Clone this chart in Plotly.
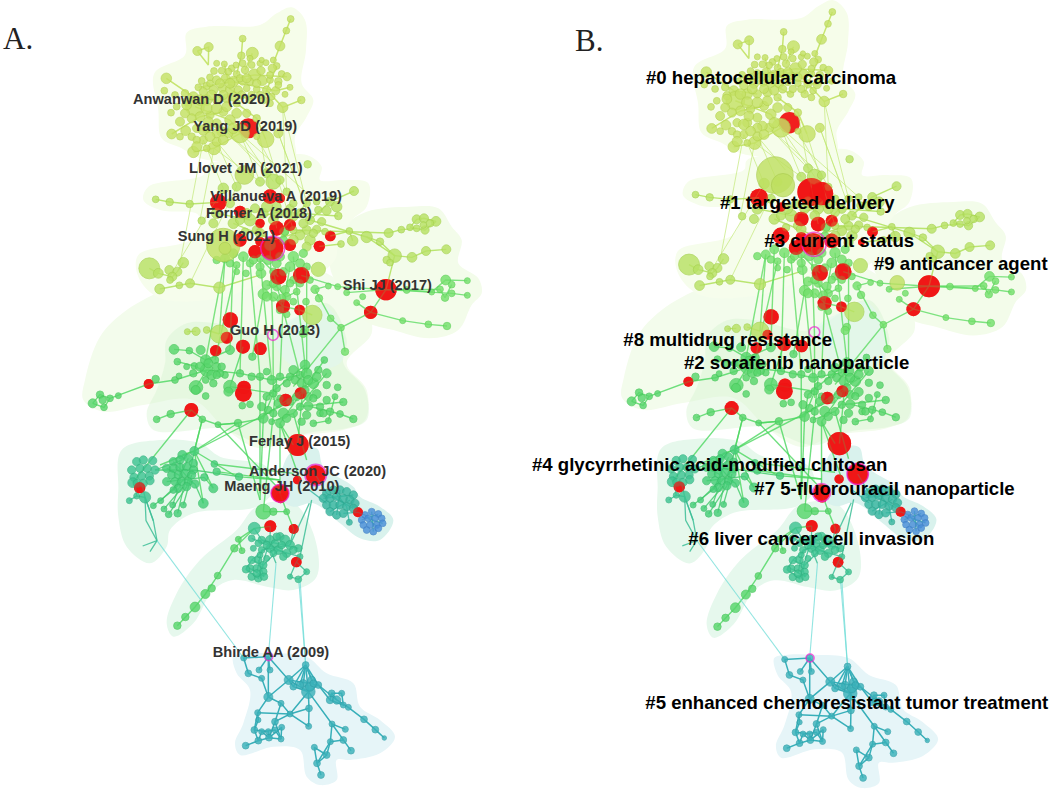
import plotly.graph_objects as go

# ---------- network layout units (shared by both panels) ----------
top_x = [692,679,660,548,577,544,412,446,493,515,548,575,618,650,462,485,530,555,583,603,637,665,681,425,450,470,497,520,548,570,607,630,655,319,313,690,415,440,460,487,510,535,560,590,620,647,675,724,345,375,400,405,440,470,500,530,568,668,610,630,333,375,420,450,490,360,377,335,410,440,470,510,540,590,617,655,590,400,430,462,470,440,505,505,470,540,600,630,560,590,450,480,510,430,455,490,520,545,575,600,635,655,380,420,380,350,440,470,500,530,395,445,430,395,410,485,520,560,470,410,450,360,490,640,605,528,570]
top_y = [57,92,138,116,160,167,153,141,192,205,190,195,188,198,213,212,222,210,225,212,205,222,230,243,232,240,235,245,243,245,242,240,244,235,272,262,262,258,270,265,268,270,265,268,270,272,283,300,285,280,290,320,300,300,295,310,300,322,300,310,338,340,350,345,335,365,392,402,385,385,370,360,400,355,418,400,410,456,420,445,425,445,400,215,190,235,190,225,235,250,250,250,250,275,285,285,290,285,285,285,290,255,305,300,315,320,325,325,320,340,355,365,390,410,420,395,385,340,400,440,410,410,420,180,180,195,175]
top_f = [9,9,13,9,16,10,12,12,8,9,9,9,8,9,9,9,9,10,16,11,11,9,11,9,9,11,12,14,11,10,13,9,10,14,9,8,9,10,12,11,12,11,9,9,11,11,8,10,9,10,13,25,14,11,12,10,9,14,10,9,9,12,13,11,12,12,13,13,11,12,12,14,25,10,22,12,8,15,11,17,12,9,12,9,8,10,8,9,12,11,9,12,13,11,13,12,12,11,10,10,9,9,11,14,13,9,15,14,13,13,12,13,14,10,10,13,14,11,12,13,13,9,13,8,7,8,8]

mid_x = [743,620,640,600,660,490,680,882,287,329,389,425,530,810,830,775,800,835,740,770,750,720,690,470,460,520,570,555,770,740,795,700,750,672,868,878,843,920,960,986,1024,1050,1070,1092,1128,1070,1095,1110,1090,1159,1098,1056,1004,980,990,268,295,328,370,352,337,358,390,299,478,330,757,478,408,382,440,775,650,610,585,650,620,640,700,730,700,680,590,560,540,510,600,720,700,740,760,785]
mid_y = [493,520,545,545,540,565,575,573,598,606,612,662,560,605,620,630,632,648,610,605,660,640,625,640,670,670,660,695,688,690,695,690,720,695,693,722,732,711,725,699,689,682,658,655,664,685,690,670,675,748,753,772,767,780,788,805,820,810,788,815,830,856,850,867,863,840,945,1002,994,995,990,808,640,640,625,620,620,660,650,670,610,640,690,640,660,610,700,705,720,740,700,665]
mid_f = [10,12,20,12,11,14,10,12,9,10,10,10,12,12,14,10,12,10,10,9,12,12,11,14,12,14,16,10,11,12,9,10,14,12,9,14,9,15,10,12,9,9,12,12,13,9,11,10,9,12,12,13,18,10,9,28,13,12,14,12,12,9,12,13,15,9,26,24,11,8,9,19,14,13,12,12,14,13,12,12,10,13,12,13,12,12,13,13,13,12,11,11]

lime_x = [495,520,550,570,600,630,675,670,700,730,640,603,558,530,740,690,620,610,650,675,640,680,710,765,777,738,805,812,833,860,890,908,843,855,680,735,730,1157,1175,1222,1140,1175,1222,1155,1115,1040,1028,1105,1161,470,600,650,720,580,625,660,510,670,700,640,620,665,690,720,660,700,750,530]
lime_y = [775,760,770,790,775,735,695,720,770,760,815,820,820,795,800,800,855,882,860,870,890,890,875,868,895,905,858,955,860,878,908,890,983,1055,943,990,1000,840,854,842,868,880,886,893,876,870,962,973,978,780,800,790,790,780,780,770,790,815,840,850,890,895,850,850,930,905,840,815]
lime_f = [12,12,13,10,10,15,10,11,14,11,10,13,9,9,10,13,12,14,11,12,12,11,9,11,10,9,8,9,8,8,8,8,9,10,9,10,11,13,9,8,9,9,8,10,8,9,8,9,10,10,11,12,12,11,12,12,10,11,10,11,12,11,10,10,10,9,9,8]

green_x = [342,388,422,510,577,352,380,403,437,465,440,470,455,408,510,287,345,357,437,460,495,540,600,635,660,735,793,720,775,740,800,690,760,833,120,98,128,150,175,132,407,437,505,547,570,620,640,660,605,625,610,635,660,670,700,745,770,800,825,850,780,780,810,840,880,760,805,720,290,332,427,474,534,610,640,680,535,523,546,473,455,436,405,376,352,400,420,480,445,470,485,575,620,650,680,705,725,745,770,700,735,800,710,745,690,655,760,640,680,725,740,790]
green_y = [1048,1052,1050,1050,1070,1085,1100,1098,1080,1080,1110,1100,1125,1162,1160,1137,1140,1128,1140,1150,1125,1120,1130,1140,1130,1095,1080,1125,1110,1120,1120,1130,1150,1162,1184,1210,1200,1195,1187,1222,1170,1188,1175,1217,1213,1190,1180,1195,1220,1230,1255,1265,1270,1240,1240,1218,1182,1200,1190,1206,1220,1240,1235,1242,1257,1270,1262,1220,1258,1242,1258,1274,1269,1535,1535,1535,1618,1645,1652,1727,1765,1782,1821,1851,1877,1120,1100,1120,1090,1125,1100,1130,1115,1165,1150,1140,1150,1140,1130,1110,1170,1155,1190,1190,1205,1210,1195,1240,1255,1265,1245,1240]
green_f = [13,9,12,12,10,9,8,9,14,10,17,11,13,18,17,10,9,8,9,10,9,10,10,12,10,13,9,10,10,14,12,10,14,9,10,12,10,9,8,9,12,9,12,9,9,10,10,9,11,10,13,8,12,14,11,12,12,10,8,10,10,9,10,9,10,9,8,10,9,10,9,8,10,20,10,8,8,10,8,9,10,12,13,10,10,10,12,10,12,10,10,10,9,10,10,11,12,12,12,12,11,10,11,11,10,11,10,10,11,10,11,10]

block_x = [367,403,340,360,385,400,320,340,360,380,400,320,335,355,375,395,345,365,385,355,380,405,340,463,470,433,460,430,280,302,312,326,353,370,338,537]
block_y = [1365,1353,1385,1380,1375,1390,1405,1405,1402,1400,1410,1445,1425,1425,1420,1425,1445,1445,1445,1465,1460,1452,1470,1392,1415,1432,1465,1510,1517,1502,1527,1543,1540,1515,1515,1430]
block_f = [12,12,11,11,11,11,11,11,11,11,11,11,11,11,11,11,11,11,11,11,11,11,9,9,10,10,12,13,8,8,8,9,10,8,8,10]

teal_x = [215,230,250,278,222,240,262,285,245,268,218,232,250,270,255,208,230,575,605,630,660,675,690,655,680,715,720,630,605,580,575,595,610,570,590,610,558,575,595,612,590,740,715,690,583,620,645,665,650,595,700,640,670,600,620]
teal_y = [1410,1385,1380,1382,1432,1405,1405,1410,1428,1428,1448,1450,1450,1442,1492,1502,1488,1615,1620,1620,1610,1620,1635,1650,1660,1645,1670,1645,1650,1645,1680,1680,1695,1705,1705,1715,1708,1730,1735,1730,1720,1715,1738,1730,1585,1635,1630,1635,1610,1630,1650,1660,1670,1665,1675]
teal_f = [11,11,11,11,11,11,11,11,11,11,13,11,11,11,15,8,8,9,10,12,11,13,12,12,11,10,8,11,9,8,10,10,10,10,10,10,10,10,10,10,10,8,9,7,16,10,10,10,10,9,10,9,10,8,8]

sea_x = [800,820,840,860,880,790,810,830,850,870,885,800,820,840,860,880,810,830,850,868]
sea_y = [1480,1470,1470,1475,1485,1495,1495,1490,1495,1500,1510,1515,1515,1515,1520,1525,1535,1545,1540,1567]
sea_f = [11,11,11,11,11,11,11,11,11,11,11,11,11,11,11,11,11,11,11,8]

blue_x = [915,935,955,965,905,925,945,910,930,950,968,920,940,955]
blue_y = [1545,1535,1542,1555,1560,1555,1555,1575,1575,1575,1570,1590,1595,1585]
blue_f = [9,9,9,9,9,9,9,9,9,9,9,9,9,9]

low_x = [551,565,605,597,630,625,625,663,593,690,747,737,686,700,730,755,775,745,720,750,760,815,845,810,830,850,865,912,946,973,816,856,746,850,811,873,763,800,771,783,557,595,627,663,583,605,625,645,665,595,645]
low_y = [1974,2020,2035,2010,2010,1970,2091,2110,2138,2142,2125,1995,2040,2060,2050,2040,2055,2075,2055,2060,2050,2080,2080,2100,2100,2115,2122,2158,2189,2214,2172,2188,2179,2220,2225,2252,2242,2265,2290,2325,2237,2222,2213,2217,2190,2195,2195,2165,2182,2160,2190]
low_f = [8,9,8,8,8,9,12,8,8,8,9,9,12,9,10,10,9,18,10,12,9,9,8,10,11,8,8,9,9,6,8,8,8,9,8,9,8,9,9,9,9,9,9,8,9,8,8,9,8,7,8]

# burst nodes
burst_x = [565,475,540,630,660,600,650,690,540,635,585,690,600,655,724,811,778,978,932,669,719,511,500,467,549,601,266,552,550,677,722,394,713,767,712,660,662,239,894,631,701,709]
burst_y = [385,607,635,590,595,670,685,675,720,745,755,735,725,830,826,708,739,869,937,919,930,960,1013,1052,1040,1046,1152,1162,1180,1200,1180,1230,1335,1425,1440,1480,1495,1463,1537,1579,1587,1686]
burst_f_a = [30,25,18,22,15,14,22,18,20,35,20,18,14,24,25,16,17,32,20,21,16,23,18,17,21,19,15,20,25,19,18,21,33,30,13,27,15,17,15,18,15,16]
burst_f_b = [32,27,14,42,35,22,22,18,25,33,22,22,17,24,25,16,10,33,21,21,16,23,15,17,21,19,15,20,25,19,18,21,35,32,14,25,15,17,15,18,15,16]

ring_x = [638,639,767,660,626]
ring_y = [745,1005,1425,1480,1970]
ring_f = [36,16,32,27,12]

big_a_x = [553,490,495]
big_a_y = [525,735,745]
big_a_f = [28,50,18]
big_b_x = [522,546,884]
big_b_y = [540,570,859]
big_b_f = [55,35,22]

# links (polylines through nodes)
top_links = [[(692,57),(679,92),(660,138),(640,190)],[(412,153),(446,141),(445,195),(412,153)],[(548,116),(544,167),(530,222)],[(577,160),(555,210)],[(724,300),(668,322),(620,270)],[(490,240),(583,225),(681,230)],[(415,262),(520,245),(647,272)],[(319,235),(400,290),(470,300)],[(405,320),(510,360),(540,400)],[(335,402),(420,350),(490,335)],[(400,456),(462,445),(540,400)],[(617,418),(590,355),(530,310)],[(650,198),(620,270),(610,300)],[(493,192),(510,268),(568,300)],[(690,262),(647,272)]]
fan_links = [[(430,420),(360,790)],[(462,445),(420,660)],[(470,425),(553,525)],[(505,400),(620,520)],[(540,400),(640,545)],[(540,400),(600,545)],[(590,410),(680,575)],[(617,418),(700,690)],[(655,400),(720,575)],[(668,322),(740,610)],[(668,322),(680,575)],[(470,425),(530,560)],[(430,420),(490,565)],[(505,400),(660,540)],[(590,355),(650,685)],[(540,400),(770,605)],[(462,445),(600,545)],[(655,400),(750,660)],[(490,565),(329,830)],[(530,560),(390,850)]]
mid_links = [[(287,598),(329,606),(389,612),(475,607)],[(882,573),(810,605),(750,660)],[(750,660),(920,711),(1004,767)],[(700,690),(986,699),(1024,689),(1070,685)],[(1050,682),(1070,658),(1092,655),(1128,664),(1095,690),(1050,682)],[(1004,767),(1056,772),(1098,753),(1159,748)],[(978,869),(1004,767)],[(920,711),(960,725),(1004,767)],[(811,708),(868,693),(878,722)],[(778,739),(843,732)],[(268,805),(295,820),(337,830),(352,815),(370,788)],[(299,867),(358,856),(390,850),(478,863),(600,825)],[(740,610),(675,680)],[(470,640),(570,660),(690,625)],[(520,670),(640,720),(740,690)],[(834,648),(720,640)],[(408,994),(382,995)],[(478,1002),(440,990)],[(757,945),(719,930)]]
lime_links = [[(724,826),(833,860),(978,869),(1040,870),(1115,876),(1157,840),(1222,842)],[(978,869),(1175,880),(1222,886)],[(978,869),(1140,868),(1155,893),(1175,854)],[(932,937),(1028,962),(1105,973),(1161,978)],[(932,937),(843,983),(700,1160)],[(932,937),(978,869)],[(600,775),(655,830)],[(495,775),(478,1002)],[(520,760),(510,1050)],[(550,770),(540,1120)],[(570,790),(600,1130)],[(600,775),(635,1140)],[(630,735),(639,1005),(640,1200)],[(700,770),(735,1095)],[(640,815),(720,1125)],[(690,800),(669,919),(660,1130)],[(610,882),(577,1070)],[(495,775),(437,1080)],[(530,795),(465,1080)],[(740,800),(740,1120)],[(765,868),(812,955),(843,983)],[(855,1055),(843,983)],[(620,855),(650,860),(680,890),(710,875)],[(640,890),(669,919),(719,930)],[(795,860),(765,868)],[(860,878),(978,869)],[(890,908),(932,937)]]
green_links = [[(98,1210),(120,1184),(150,1195),(266,1152),(345,1140),(440,1110)],[(98,1210),(132,1222),(150,1195)],[(342,1048),(388,1052),(437,1080),(510,1050)],[(352,1085),(403,1098),(455,1125)],[(440,1110),(540,1120),(635,1140),(720,1125)],[(510,1160),(549,1040)],[(408,1162),(440,1110)],[(510,1160),(640,1180),(610,1255)],[(290,1258),(332,1242),(394,1230),(427,1258),(474,1274),(534,1269),(610,1255)],[(427,1258),(403,1353),(367,1365)],[(474,1274),(534,1269),(600,1500)],[(610,1255),(600,1500)],[(660,1270),(700,1335)],[(735,1095),(620,1190),(610,1255)],[(745,1218),(840,1242),(880,1257)],[(760,1270),(805,1262),(825,1190)],[(793,1080),(660,1270)],[(800,1120),(700,1240),(635,1265)],[(720,1220),(850,1206)],[(773,1140),(600,1255)],[(427,1258),(403,1353)],[(474,1274),(660,1470)],[(394,1230),(218,1448)],[(534,1269),(403,1353)],[(660,1270),(720,1440)],[(735,1095),(713,1335)],[(660,1270),(660,1480)],[(600,1130),(600,1480)],[(650,1140),(610,1535)],[(700,1240),(740,1380)],[(352,1877),(376,1851),(405,1821),(436,1782),(473,1727),(523,1645),(583,1585),(631,1579)],[(610,1535),(680,1535),(660,1480)],[(546,1652),(535,1618),(583,1585)],[(701,1587),(680,1535)],[(403,1353),(430,1510)],[(403,1353),(460,1465),(433,1432)],[(403,1353),(530,1430),(660,1440)],[(470,1415),(660,1440)],[(463,1392),(700,1420)],[(403,1353),(300,1395)],[(403,1353),(700,1200)]]
block_links = [[(285,1410),(367,1380)],[(285,1410),(400,1410)],[(280,1517),(340,1470),(400,1410)],[(302,1502),(360,1445)],[(312,1527),(370,1460)],[(326,1543),(380,1460)],[(353,1540),(375,1445)],[(338,1515),(355,1465)],[(370,1515),(395,1425)],[(405,1452),(430,1510)],[(340,1385),(400,1450)],[(320,1405),(405,1452)],[(360,1380),(360,1465)],[(385,1375),(340,1470)],[(403,1353),(380,1460)],[(433,1432),(320,1445)],[(537,1430),(400,1410)]]
teal_links = [[(208,1502),(230,1488),(255,1492),(258,1562),(291,1622),(270,1655)],[(245,1448),(255,1492),(280,1562),(291,1622)],[(248,1638),(291,1622)],[(255,1492),(280,1562)],[(230,1488),(222,1432)],[(583,1585),(605,1620),(655,1650)],[(575,1615),(680,1660)],[(605,1620),(715,1645)],[(630,1620),(595,1735)],[(660,1610),(575,1680)],[(605,1650),(690,1635)],[(630,1645),(720,1670)],[(575,1680),(610,1695),(595,1735),(558,1708),(575,1680)],[(595,1680),(612,1730)],[(570,1705),(612,1730)],[(605,1650),(590,1720)],[(655,1650),(610,1695)],[(709,1686),(740,1715),(715,1738),(690,1730),(709,1686)],[(648,1690),(630,1645)],[(701,1587),(690,1635)],[(631,1579),(630,1620)],[(720,1670),(709,1686)],[(690,1635),(748,1510)],[(720,1670),(755,1500)]]
sea_links = [[(767,1425),(800,1480)],[(800,1480),(880,1525)],[(820,1470),(860,1520)],[(790,1495),(880,1485)],[(810,1535),(870,1500)],[(840,1470),(830,1545)],[(850,1540),(894,1537)],[(894,1537),(915,1545)],[(905,1560),(955,1542)],[(915,1545),(955,1585)],[(925,1555),(968,1570)],[(935,1535),(940,1595)],[(868,1567),(860,1520)],[(748,1470),(800,1510)]]
low_links = [[(551,1974),(625,1970),(625,2091)],[(551,1974),(565,2020),(605,2035),(625,2091)],[(625,1970),(686,2040),(745,2075)],[(597,2010),(625,1970),(630,2010)],[(737,1995),(686,2040)],[(737,1995),(700,2060)],[(737,1995),(730,2050)],[(737,1995),(755,2040)],[(737,1995),(775,2055)],[(737,1995),(745,2075)],[(737,1995),(720,2055)],[(737,1995),(760,2050)],[(625,2091),(686,2040)],[(686,2040),(775,2055),(745,2075),(700,2060),(686,2040)],[(745,2075),(690,2142),(593,2138)],[(625,2091),(663,2110),(690,2142),(746,2179),(747,2125),(745,2075)],[(625,2091),(593,2138),(583,2190)],[(663,2110),(645,2165),(663,2217)],[(747,2125),(690,2142),(645,2165)],[(745,2075),(816,2172),(811,2225),(771,2290)],[(816,2172),(856,2188)],[(816,2172),(850,2220),(873,2252)],[(811,2225),(850,2220)],[(811,2225),(800,2265),(763,2242),(771,2290),(800,2265)],[(771,2290),(783,2325)],[(775,2055),(830,2100),(865,2122),(912,2158),(946,2189),(973,2214)],[(775,2055),(810,2100),(815,2080),(845,2080),(850,2115),(810,2100)],[(830,2100),(815,2080)],[(557,2237),(595,2222),(627,2213),(663,2217)],[(583,2190),(595,2222),(605,2195),(627,2213),(625,2195),(583,2190)],[(645,2165),(627,2213),(665,2182),(663,2217),(645,2190),(605,2195)],[(595,2160),(583,2190)],[(593,2138),(595,2160)]]
long_links = [[(551,1974),(291,1622)],[(625,1970),(648,1690)],[(737,1995),(716,1738)],[(737,1995),(720,1738)]]

# hull outlines
hull_top = [(695,22),(735,60),(738,150),(725,250),(760,300),(740,350),(705,410),(705,470),(630,475),(500,485),(420,475),(365,445),(305,415),(295,330),(283,220),(375,165),(380,98),(440,80),(600,75),(650,40)]
hull_mid = [(740,465),(785,500),(780,540),(850,540),(925,550),(920,620),(875,660),(835,730),(825,780),(750,835),(600,855),(480,895),(300,895),(235,830),(235,765),(400,715),(415,645),(300,630),(250,600),(265,560),(430,525),(440,495),(600,475)]
hull_right = [(850,680),(920,635),(1050,620),(1135,625),(1175,680),(1205,720),(1195,790),(1255,835),(1265,880),(1235,915),(1195,990),(1110,1015),(1000,990),(920,965),(850,880),(810,800),(830,720)]
hull_wide = [(75,1140),(120,1010),(200,930),(330,860),(480,790),(560,780),(700,800),(800,820),(920,930),(935,1000),(860,1090),(920,1170),(915,1260),(850,1290),(700,1310),(600,1345),(500,1290),(400,1200),(250,1215),(130,1235),(70,1200)]
hull_inner = [(320,1020),(380,970),(470,970),(620,1000),(800,910),(860,1020),(850,1090),(915,1170),(920,1260),(860,1285),(740,1300),(640,1340),(520,1300),(480,1285),(280,1290),(260,1240),(290,1170),(315,1090)]
hull_core = [(640,1000),(730,940),(790,915),(850,1000),(840,1090),(700,1100)]
hull_left = [(185,1350),(300,1320),(420,1330),(480,1370),(620,1400),(640,1470),(590,1520),(400,1540),(330,1590),(320,1640),(270,1690),(200,1640),(175,1550),(175,1470)]
hull_low = [(590,1520),(700,1510),(760,1600),(770,1730),(700,1770),(620,1760),(520,1740),(460,1770),(400,1870),(340,1910),(320,1870),(350,1780),(420,1680),(530,1590)]
hull_sea = [(690,1360),(770,1345),(790,1400),(880,1460),(900,1490),(960,1520),(1000,1560),(960,1620),(900,1615),(840,1570),(760,1510),(700,1520),(660,1490)]
hull_foot = [(520,1970),(560,1960),(640,1960),(740,1970),(800,2020),(880,2050),(900,2120),(960,2160),(1005,2210),(960,2260),(870,2280),(830,2280),(830,2340),(780,2355),(740,2330),(720,2250),(640,2240),(540,2265),(525,2230),(550,2170),(570,2070),(530,2020)]

# labels
cited_names = ["Anwanwan D (2020)","Yang JD (2019)","Llovet JM (2021)","Villanueva A (2019)","Forner A (2018)","Sung H (2021)","Shi JJ (2017)","Guo H (2013)","Ferlay J (2015)","Anderson JC (2020)","Maeng JH (2010)","Bhirde AA (2009)"]
cited_px = [133,193.3,189,210.3,206,177.7,342.7,230,249,249,224.3,212.7]
cited_py = [100,127,169.5,197.5,214.5,237.5,286,331.5,442,472,487.5,653]
topic_names = ["#0 hepatocellular carcinoma","#1 targeted delivery","#3 current status","#9 anticancer agent","#8 multidrug resistance","#2 sorafenib nanoparticle","#4 glycyrrhetinic acid-modified chitosan","#7 5-fluorouracil nanoparticle","#6 liver cancer cell invasion","#5 enhanced chemoresistant tumor treatment"]
topic_px = [646,720,764.3,874,623.3,684,532,754.3,688.3,645.3]
topic_py = [79.5,204.5,242.5,265.5,341.5,364.5,466.5,490,540,704]
panel_names = ["A.","B."]
panel_px = [3,575]
panel_py = [41,43]

hulls = [(hull_wide,"#f3fcec"),(hull_inner,"rgba(215,243,210,0.45)"),(hull_core,"rgba(225,247,238,0.6)"),
         (hull_right,"#f3fcea"),(hull_mid,"#f6fdec"),(hull_top,"#f6fdea"),
         (hull_left,"#e6f8ec"),(hull_low,"#e6f8ed"),(hull_sea,"#d9f2ed"),(hull_foot,"#e6f5f8")]
links = [(top_links,"rgba(190,225,90,0.85)",1.5),(fan_links,"rgba(190,230,110,0.65)",1.0),(mid_links,"rgba(175,225,90,0.85)",1.4),
         (lime_links,"rgba(95,220,100,0.8)",1.4),(green_links,"rgba(75,215,95,0.8)",1.4),(block_links,"rgba(70,205,110,0.85)",1.3),
         (teal_links,"rgba(60,190,150,0.85)",1.3),(sea_links,"rgba(55,185,165,0.85)",1.3),(low_links,"rgba(55,175,185,1)",1.5),
         (long_links,"rgba(110,220,215,0.75)",1.1)]
nodes = [(top_x,top_y,top_f,"#c5e266","#b4d24e"),(mid_x,mid_y,mid_f,"#b8e265","#a4d04e"),
         (lime_x,lime_y,lime_f,"#74e06c","#5cd056"),(green_x,green_y,green_f,"#58d66c","#45c558"),
         (block_x,block_y,block_f,"#46ce78","#38bd68"),(teal_x,teal_y,teal_f,"#3ec492","#32b381"),
         (sea_x,sea_y,sea_f,"#37b6a0","#2ea58e"),(blue_x,blue_y,blue_f,"#4a8fd9","#3f80c6"),
         (low_x,low_y,low_f,"#3bb2ba","#30a0a8")]

SIZE = 0.75
fig = go.Figure()
def flat(paths):
    xs, ys = [], []
    for p in paths:
        for a, b in p:
            xs.append(a); ys.append(b)
        xs.append(None); ys.append(None)
    return xs, ys

def draw_panel(ax, ay, burst_f, big_x, big_y, big_f):
    for hull, col in hulls:
        pts = hull + hull[:1]
        fig.add_trace(go.Scatter(x=[p[0] for p in pts], y=[p[1] for p in pts], fill="toself", fillcolor=col,
                                 mode="lines", line=dict(shape="spline", smoothing=1.0, width=0, color=col),
                                 xaxis=ax, yaxis=ay, showlegend=False, hoverinfo="skip"))
    fig.add_trace(go.Scatter(x=burst_x, y=burst_y, mode="markers", xaxis=ax, yaxis=ay, showlegend=False,
                             marker=dict(size=[v*2/3 for v in burst_f], color="#f01414", opacity=0.95, line=dict(width=0))))
    for paths, col, w in links:
        xs, ys = flat(paths)
        fig.add_trace(go.Scatter(x=xs, y=ys, mode="lines", line=dict(color=col, width=w), xaxis=ax, yaxis=ay,
                                 showlegend=False, hoverinfo="skip"))
    for xs, ys, fs, col, edge in nodes:
        fig.add_trace(go.Scatter(x=xs, y=ys, mode="markers", xaxis=ax, yaxis=ay, showlegend=False,
                                 marker=dict(size=[v*SIZE for v in fs], color=col, opacity=0.82, line=dict(width=0.8, color=edge))))
    fig.add_trace(go.Scatter(x=big_x, y=big_y, mode="markers", xaxis=ax, yaxis=ay, showlegend=False,
                             marker=dict(size=[v*2/3 for v in big_f], color="#bfe060", opacity=0.8, line=dict(width=0.8, color="#aacb4c"))))
    fig.add_trace(go.Scatter(x=burst_x[1:], y=burst_y[1:], mode="markers", xaxis=ax, yaxis=ay, showlegend=False,
                             marker=dict(size=[v*2/3 for v in burst_f[1:]], color="#f01414", opacity=0.7, line=dict(width=0))))
    fig.add_trace(go.Scatter(x=ring_x, y=ring_y, mode="markers", xaxis=ax, yaxis=ay, showlegend=False,
                             marker=dict(size=[v*2/3 for v in ring_f], color="rgba(0,0,0,0)", line=dict(width=1.6, color="#f020d0"))))

draw_panel("x", "y", burst_f_a, big_a_x, big_a_y, big_a_f)
draw_panel("x2", "y2", burst_f_b, big_b_x, big_b_y, big_b_f)

fig.add_trace(go.Scatter(x=cited_px, y=cited_py, text=cited_names, mode="text", textposition="middle right",
                         textfont=dict(family="Liberation Sans", size=14.6, color="#333333", weight="bold"),
                         xaxis="x3", yaxis="y3", showlegend=False, hoverinfo="skip", cliponaxis=False))
fig.add_trace(go.Scatter(x=topic_px, y=topic_py, text=topic_names, mode="text", textposition="middle right",
                         textfont=dict(family="Liberation Sans", size=18.6, color="#000000", weight="bold"),
                         xaxis="x3", yaxis="y3", showlegend=False, hoverinfo="skip", cliponaxis=False))
fig.add_trace(go.Scatter(x=panel_px, y=panel_py, text=panel_names, mode="text", textposition="middle right",
                         textfont=dict(family="Liberation Serif", size=31, color="#222222"),
                         xaxis="x3", yaxis="y3", showlegend=False, hoverinfo="skip", cliponaxis=False))

axis = dict(visible=False, domain=[0, 1], fixedrange=True)
fig.update_layout(
    width=1052, height=790, margin=dict(l=0, r=0, t=0, b=0), paper_bgcolor="white", plot_bgcolor="white",
    xaxis=dict(axis, range=[-180, 2976]), yaxis=dict(axis, range=[2370, 0]),
    xaxis2=dict(axis, range=[-1771, 1342], overlaying="x"), yaxis2=dict(axis, range=[2360.7, 21.6], overlaying="y"),
    xaxis3=dict(axis, range=[0, 1052], overlaying="x"), yaxis3=dict(axis, range=[790, 0], overlaying="y"),
)
fig.write_html("out.html", config=dict(displayModeBar=False),
               post_script="document.body.style.margin='0';document.body.style.overflow='hidden';")
